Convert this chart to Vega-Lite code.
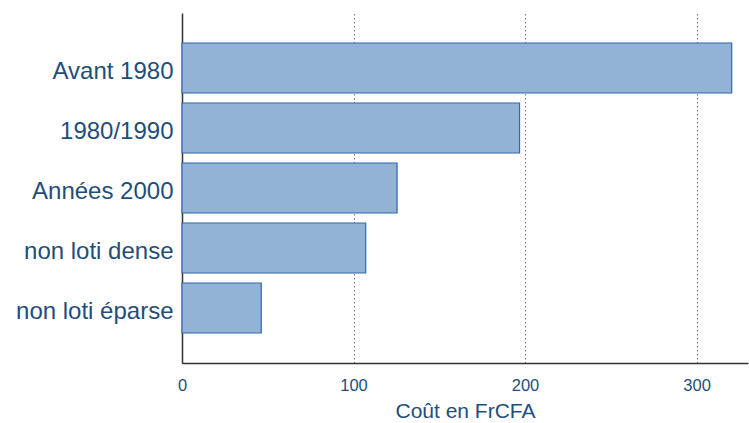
{
  "$schema": "https://vega.github.io/schema/vega-lite/v6.json",
  "width": 566,
  "height": 350,
  "autosize": {"type": "none"},
  "padding": {"left": 182, "top": 13, "right": 1, "bottom": 60},
  "background": "white",
  "config": {"view": {"stroke": null}, "font": "Liberation Sans"},
  "data": {
    "values": [
      {"categorie": "Avant 1980", "cout": 320.5},
      {"categorie": "1980/1990", "cout": 196.8},
      {"categorie": "Années 2000", "cout": 125.4},
      {"categorie": "non loti dense", "cout": 107.1},
      {"categorie": "non loti éparse", "cout": 46.2}
    ]
  },
  "mark": {"type": "bar", "fill": "#92b3d6", "stroke": "#3068a8", "strokeWidth": 1.2},
  "encoding": {
    "y": {
      "field": "categorie",
      "type": "nominal",
      "sort": null,
      "scale": {"paddingInner": 0.167, "paddingOuter": 0.5},
      "axis": {
        "title": null,
        "ticks": false,
        "domainColor": "#333333",
        "domainWidth": 1.5,
        "labelFontSize": 24,
        "labelColor": "#1f4e79",
        "labelPadding": 9,
        "labelOffset": 4,
        "labelFont": "Liberation Sans"
      }
    },
    "x": {
      "field": "cout",
      "type": "quantitative",
      "scale": {"domain": [0, 330], "nice": false},
      "axis": {
        "title": "Coût en FrCFA",
        "values": [0, 100, 200, 300],
        "ticks": false,
        "grid": true,
        "gridDash": [1.5, 2.5],
        "gridColor": "#777777",
        "gridWidth": 1,
        "domainColor": "#333333",
        "domainWidth": 1.5,
        "labelFontSize": 16.5,
        "labelColor": "#1f4e79",
        "labelPadding": 14,
        "labelFlush": false,
        "labelFont": "Liberation Sans",
        "titleFontSize": 21,
        "titleFontWeight": "normal",
        "titleColor": "#1f4e79",
        "titlePadding": 7,
        "titleFont": "Liberation Sans"
      }
    }
  }
}
